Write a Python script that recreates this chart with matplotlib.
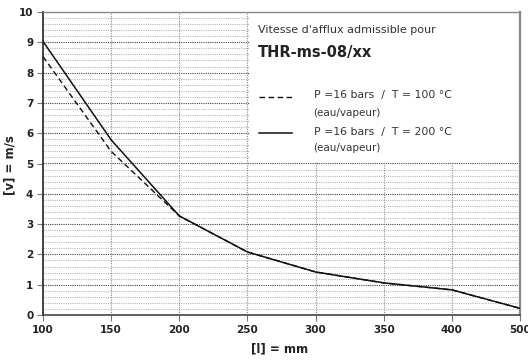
import matplotlib
matplotlib.use("Agg")
import matplotlib.pyplot as plt
from matplotlib.patches import Rectangle
import numpy as np

plt.rcParams['font.family'] = ['DejaVu Sans']

x_labels = ["100", "150", "200", "250", "300", "350", "400", "500"]
v_200 = [9.03, 5.78, 3.27, 2.08, 1.42, 1.06, 0.83, 0.22]
v_100 = [8.53, 5.40, 3.27, 2.08, 1.42, 1.06, 0.83, 0.22]
y_ticks = [0, 1, 2, 3, 4, 5, 6, 7, 8, 9, 10]

fig = plt.figure(figsize=(5.28, 3.61), dpi=100)
ax = fig.add_axes([43/528, 1-315/361, (520-43)/528, (315-12)/361])

pos = np.arange(len(x_labels))
ax.set_xlim(0, len(x_labels)-1)
ax.set_ylim(0, 10)

# grid
for yv in np.arange(0.2, 10, 0.2):
    if abs(yv - round(yv)) < 1e-6:
        ax.axhline(yv, color='#444444', lw=0.8, ls=(0, (1, 1)), zorder=1)
    else:
        ax.axhline(yv, color='#b8b8b8', lw=0.8, ls=(0, (1, 1)), zorder=1)
for xv in pos[1:-1]:
    ax.axvline(xv, color='#888888', lw=0.8, ls=(0, (1, 1.2)), zorder=1)

# white legend panel
ax.add_patch(Rectangle((3.02, 5.06), 4, 5, facecolor='white', edgecolor='none', zorder=2))

ax.plot(pos, v_100, color='#111111', lw=1.0, ls=(0, (4, 2.5)), zorder=3)
ax.plot(pos, v_200, color='#111111', lw=1.1, zorder=4)

ax.set_xticks(pos)
ax.set_xticklabels(x_labels)
ax.set_yticks(y_ticks)
for lab in ax.get_xticklabels() + ax.get_yticklabels():
    lab.set_fontweight('bold')
    lab.set_fontsize(7.5)
    lab.set_color('#222222')
ax.tick_params(axis='both', length=4, width=0.8, color='#777777', pad=3)

ax.spines['left'].set_color('#222222')
ax.spines['left'].set_linewidth(1.2)
ax.spines['bottom'].set_color('#444444')
ax.spines['bottom'].set_linewidth(1.2)
ax.spines['top'].set_color('#888888')
ax.spines['top'].set_linewidth(1.0)
ax.spines['right'].set_color('#888888')
ax.spines['right'].set_linewidth(1.6)

fig.text(10/528, 1-165/361, "[v] = m/s", fontsize=8.5, fontweight='bold', color='#222222',
         rotation=90, ha='center', va='center')
fig.text(280/528, 1-349/361, "[l] = mm", fontsize=8.5, fontweight='bold', color='#222222',
         ha='center', va='center')

# legend panel text
ax.text(3.15, 9.4, "Vitesse d'afflux admissible pour", fontsize=8, color='#333333',
        va='center', ha='left', zorder=5)
ax.text(3.15, 8.65, "THR-ms-08/xx", fontsize=10.5, fontweight='bold', color='#222222',
        va='center', ha='left', zorder=5)
ax.plot([3.17, 3.66], [7.2, 7.2], color='#111111', lw=1.0, ls=(0, (4, 2.5)), zorder=5)
ax.text(3.97, 7.25, "P =16 bars  /  T = 100 °C", fontsize=7.8, color='#333333',
        va='center', ha='left', zorder=5)
ax.text(3.97, 6.68, "(eau/vapeur)", fontsize=7.5, color='#333333',
        va='center', ha='left', zorder=5)
ax.plot([3.17, 3.66], [6.0, 6.0], color='#111111', lw=1.1, zorder=5)
ax.text(3.97, 6.05, "P =16 bars  /  T = 200 °C", fontsize=7.8, color='#333333',
        va='center', ha='left', zorder=5)
ax.text(3.97, 5.5, "(eau/vapeur)", fontsize=7.5, color='#333333',
        va='center', ha='left', zorder=5)

fig.savefig("out.png", dpi=100)
